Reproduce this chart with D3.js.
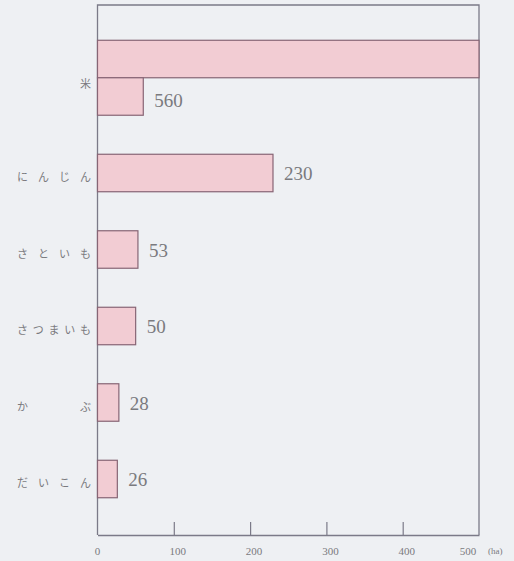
<!DOCTYPE html>
<html><head><meta charset="utf-8">
<script src="https://cdn.jsdelivr.net/npm/d3@7"></script>
<style>
html,body{margin:0;padding:0;background:#eef0f3;}
svg{display:block;}
</style></head>
<body>
<svg id="chart" width="514" height="561"></svg>
<script>
const categories = ["米","にんじん","さといも","さつまいも","かぶ","だいこん"];
const values = [560,230,53,50,28,26];
const xTicks = [0,100,200,300,400,500];
const unitLabel = "(ha)";
const axisMax = 500;

const svg = d3.select("#chart");
const plotL = 97.5, plotR = 479, plotT = 5, plotB = 535;
const x = d3.scaleLinear().domain([0, axisMax]).range([plotL, plotR]);
const y = d3.scalePoint().domain(categories).range([96.5, 479]);
const barH = y.step() * 0.49;

const ink = "#7b7a88";
const barFill = "#f2ccd3";
const barStroke = "#876575";
const textCol = "#7a7a7e";

// frame
svg.append("path")
  .attr("d", `M${plotL},${plotB}V${plotT}H${plotR}V${plotB}`)
  .attr("fill","none").attr("stroke", ink).attr("stroke-width",1.3);

// bottom axis, ticks pointing inward
const ax = svg.append("g").attr("transform", `translate(0,${plotB})`)
  .call(d3.axisBottom(x).tickValues(xTicks).tickSize(-13).tickSizeOuter(0).tickFormat(""));
ax.select(".domain").attr("stroke", ink).attr("stroke-width",1.3);
ax.selectAll(".tick line").attr("stroke", ink).attr("stroke-width",1.2);
ax.selectAll(".tick").filter(d => d === 0 || d === axisMax).select("line").remove();

svg.append("g").selectAll("text").data(xTicks).join("text")
  .attr("x", d => x(d) + (d === axisMax ? -11 : (d === 0 ? 0 : 4)))
  .attr("y", 555)
  .attr("text-anchor","middle")
  .attr("font-family","'Liberation Serif', serif")
  .attr("font-size",11).attr("fill", textCol)
  .text(d => d);
svg.append("text").attr("x", 488).attr("y", 554)
  .attr("font-family","'Liberation Serif', serif")
  .attr("font-size",9).attr("fill", textCol).text(unitLabel);

// bars
const rows = categories.map((c,i) => ({c, v: values[i]}));
const g = svg.append("g");
rows.forEach(r => {
  const cy = y(r.c);
  const rem = r.v > axisMax ? r.v - axisMax : r.v;
  if (r.v > axisMax) {
    g.append("rect")
      .attr("x", x(0)).attr("y", cy - barH/2 - barH)
      .attr("width", x(axisMax) - x(0)).attr("height", barH)
      .attr("fill", barFill).attr("stroke", barStroke).attr("stroke-width",1.2);
  }
  g.append("rect")
    .attr("x", x(0)).attr("y", cy - barH/2)
    .attr("width", x(rem) - x(0)).attr("height", barH)
    .attr("fill", barFill).attr("stroke", barStroke).attr("stroke-width",1.2);
  g.append("text")
    .attr("x", x(rem) + 11).attr("y", cy + 7 + (r.v > axisMax ? 3 : 0))
    .attr("font-family","'Liberation Serif', serif")
    .attr("font-size",19).attr("fill", textCol)
    .text(r.v);
});

// category labels, justified across a fixed width
const labL = 17, labR = 91, charW = 11;
rows.forEach(r => {
  const chars = Array.from(r.c);
  const n = chars.length;
  const cy = y(r.c) + (r.v > axisMax ? -13 : 4);
  const t = svg.append("text")
    .attr("y", cy + 4)
    .attr("font-family","'Noto Sans CJK JP', sans-serif")
    .attr("font-size",11).attr("fill", textCol);
  if (n === 1) {
    t.attr("text-anchor","end").attr("x", labR).text(r.c);
  } else {
    const step = (labR - labL - charW) / (n - 1);
    t.selectAll("tspan").data(chars).join("tspan")
      .attr("x", (d,i) => labL + i*step)
      .text(d => d);
  }
});
</script>
</body></html>
